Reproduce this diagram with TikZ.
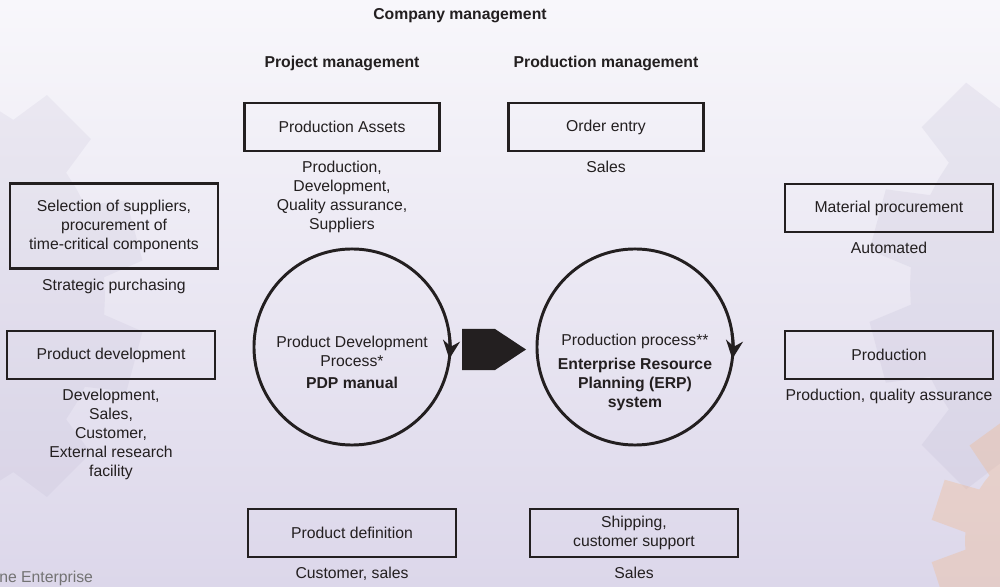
\documentclass[tikz,border=0pt]{standalone}
\usepackage{fontspec}
\setmainfont{Liberation Sans}
\usetikzlibrary{positioning,arrows.meta,shapes.arrows}
\definecolor{ink}{HTML}{231F20}
\definecolor{bgtop}{HTML}{F8F7FB}
\definecolor{bgbot}{HTML}{DCD7EA}
\definecolor{gearcol}{HTML}{A9A3C2}
\definecolor{gearorange}{HTML}{F2B98C}
\begin{document}
\begin{tikzpicture}[x=0.025cm,y=0.025cm,
	every node/.style={text=ink, font=\fontsize{11.2}{13.5}\selectfont, align=center, inner sep=0pt},
	box/.style={draw=ink, line width=1.5pt, minimum width=5.2cm, minimum height=1.2cm},
	title/.style={font=\fontsize{11.2}{13.5}\selectfont\bfseries},
	loopring/.style={circle, draw=ink, line width=2.1pt, outer sep=0pt, minimum size=4.9cm},
	turn/.style={draw=ink, line width=2.1pt, -{Stealth[length=13pt,width=12pt]}}]
			\useasboundingbox (0,0) rectangle (1000,586);
			
			% background with gears
			\shade[top color=bgtop, bottom color=bgbot] (0,0) rectangle (1000,586);
			\begin{scope}
				\clip (0,0) rectangle (1000,586);
				\begin{scope}[shift={(-110,290)}]
					\fill[gearcol, fill opacity=.12] (0:215) \foreach \a in {0,30,...,330} {-- ({\a+5}:215) -- ({\a+8}:255) -- ({\a+22}:255) -- ({\a+25}:215) -- ({\a+30}:215)} -- cycle;
				\end{scope}
				\begin{scope}[shift={(1125,300)}]
					\fill[gearcol, fill opacity=.14] (0:215) \foreach \a in {0,30,...,330} {-- ({\a+5}:215) -- ({\a+8}:258) -- ({\a+22}:258) -- ({\a+25}:215) -- ({\a+30}:215)} -- cycle;
				\end{scope}
				\begin{scope}[shift={(1065,45)}]
					\fill[gearorange, fill opacity=.35] (0:100) \foreach \a in {0,36,...,324} {-- ({\a+5}:100) -- ({\a+9}:135) -- ({\a+27}:135) -- ({\a+31}:100) -- ({\a+36}:100)} -- cycle;
				\end{scope}
			\end{scope}
			
			\node[title] (company)  at (460,570) {Company management};
			\node[title] (project)  at (342,523) {Project management};
			\node[title] (prodmgmt) at (606,523) {Production management};
			
			\node[box, minimum width=4.875cm] (assets) at (342,459) {Production Assets};
			\node[below=6.5pt of assets] (assetsby) {Production,\\Development,\\Quality assurance,\\Suppliers};
			\node[box, minimum width=4.875cm] (order) at (606,459) {Order entry};
			\node[below=6.5pt of order] (orderby) {Sales};
			
			\node[box, minimum height=2.125cm] (suppliers) at (114,360) {Selection of suppliers,\\procurement of\\time-critical components};
			\node[below=6.5pt of suppliers] (suppliersby) {Strategic purchasing};
			\node[box] (proddev) at (111,231) {Product development};
			\node[below=6.5pt of proddev] (proddevby) {Development,\\Sales,\\Customer,\\External research\\facility};
			
			\node[loopring] (pdp) at (352,239) {};
			\node (pdptext) at (352,224) {Product Development\\Process*\\[2pt]\textbf{PDP manual}};
			\draw[turn] (pdp.8) arc (8:-7:2.45cm);
			
			\node[single arrow, fill=ink, minimum height=1.6cm, minimum width=1.025cm,
				single arrow head extend=0pt, single arrow tip angle=67, outer sep=0pt, anchor=tail] (go) at (462,236.5) {};
			
			\node[loopring] (erp) at (635,239) {};
			\node (erptext) at (635,213.5) {Production process**\\[4pt]\textbf{Enterprise Resource}\\\textbf{Planning (ERP)}\\\textbf{system}};
			\draw[turn] (erp.8) arc (8:-7:2.45cm);
			
			\node[box] (material) at (889,378) {Material procurement};
			\node[below=6.5pt of material] (materialby) {Automated};
			\node[box] (production) at (889,231) {Production};
			\node[below=6.5pt of production] (productionby) {Production, quality assurance};
			
			\node[box] (definition) at (352,53) {Product definition};
			\node[below=6.5pt of definition] (definitionby) {Customer, sales};
			\node[box] (shipping) at (634,53) {Shipping,\\customer support};
			\node[below=6.5pt of shipping] (shippingby) {Sales};
			
			\node[anchor=west, text=black!55] (footer) at (-1,8) {ne Enterprise};
		\end{tikzpicture}
\end{document}
